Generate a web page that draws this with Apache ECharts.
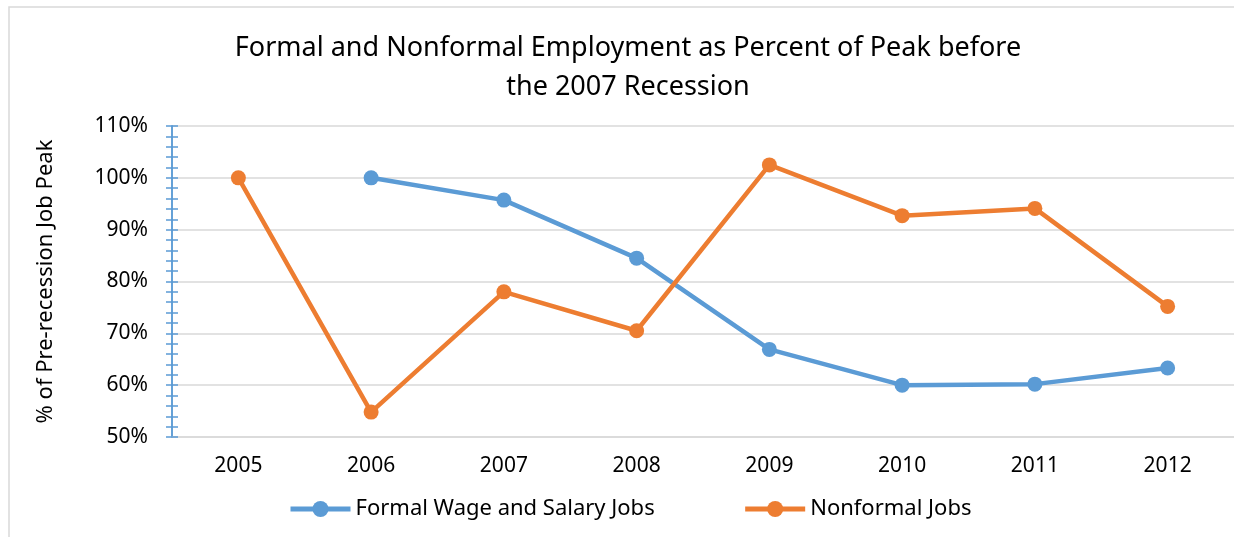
<!DOCTYPE html>
<html lang="en">
<head>
    <meta charset="UTF-8">
    <title>Formal and Nonformal Employment</title>
    <script src="https://cdn.jsdelivr.net/npm/echarts@6/dist/echarts.min.js"></script>
</head>
<body style="margin: 0; background-color: #fff">
<div id="container" style="width: 1234px; height: 537px"></div>
<script type="text/javascript">
    // data
    let years = ['2005', '2006', '2007', '2008', '2009', '2010', '2011', '2012'];
    let formalJobs = [null, 100, 95.7, 84.5, 66.9, 60.0, 60.2, 63.3];
    let nonformalJobs = [100, 54.8, 78.0, 70.5, 102.5, 92.7, 94.1, 75.2];
    let seriesNames = ['Formal Wage and Salary Jobs', 'Nonformal Jobs'];

    let font = 'Noto Sans';
    let blue = '#5B9BD5';
    let orange = '#ED7D31';

    let myChart = echarts.init(document.getElementById('container'));

    // y axis, drawn twice so the ticks cross the axis line
    let yAxisBase = {
        type: 'value',
        min: 50,
        max: 110,
        interval: 10,
        axisLine: {show: true, lineStyle: {color: blue, width: 1.5}},
        axisTick: {show: true, length: 6, lineStyle: {color: blue, width: 1.5}},
        minorTick: {show: true, splitNumber: 5, length: 6, lineStyle: {color: blue, width: 1.5}}
    };

    let option = {
        animation: false,
        textStyle: {fontFamily: font},
        graphic: [{
            type: 'rect',
            shape: {x: 9, y: 7, width: 1240, height: 540},
            style: {fill: null, stroke: '#D9D9D9', lineWidth: 1.5},
            silent: true
        }],
        title: {
            text: 'Formal and Nonformal Employment as Percent of Peak before\nthe 2007 Recession',
            left: 628,
            top: 29,
            padding: 0,
            textAlign: 'center',
            textStyle: {fontFamily: font, fontSize: 27, fontWeight: 'normal', color: '#000', lineHeight: 39}
        },
        legend: {
            data: seriesNames,
            left: 288,
            top: 498,
            padding: 0,
            itemWidth: 60,
            itemHeight: 20,
            itemGap: 88,
            lineStyle: {width: 5},
            textStyle: {fontFamily: font, fontSize: 22, color: '#000'}
        },
        grid: {left: 172, top: 126, width: 1064, height: 311},
        xAxis: {
            type: 'category',
            data: years,
            boundaryGap: true,
            axisLine: {show: true, lineStyle: {color: '#D9D9D9', width: 1.5}},
            axisTick: {show: false},
            axisLabel: {fontFamily: font, fontSize: 21, color: '#000', margin: 19}
        },
        yAxis: [
            Object.assign({}, yAxisBase, {
                name: '% of Pre-recession Job Peak',
                nameLocation: 'middle',
                nameGap: 115,
                nameTextStyle: {fontFamily: font, fontSize: 22, color: '#000'},
                axisLabel: {
                    fontFamily: font, fontSize: 21, color: '#000', margin: 24,
                    formatter: '{value}%'
                },
                splitLine: {show: true, lineStyle: {color: '#D9D9D9', width: 1.5}}
            }),
            Object.assign({}, yAxisBase, {
                position: 'left',
                axisTick: {show: true, inside: true, length: 6, lineStyle: {color: blue, width: 1.5}},
                axisLabel: {show: false},
                splitLine: {show: false}
            })
        ],
        series: [
            {
                name: seriesNames[0],
                type: 'line',
                data: formalJobs,
                symbol: 'circle',
                symbolSize: 15,
                color: blue,
                lineStyle: {width: 4.5, color: blue},
                itemStyle: {color: blue}
            },
            {
                name: seriesNames[1],
                type: 'line',
                data: nonformalJobs,
                symbol: 'circle',
                symbolSize: 15,
                color: orange,
                lineStyle: {width: 4.5, color: orange},
                itemStyle: {color: orange}
            }
        ]
    };

    myChart.setOption(option);
</script>
</body>
</html>
